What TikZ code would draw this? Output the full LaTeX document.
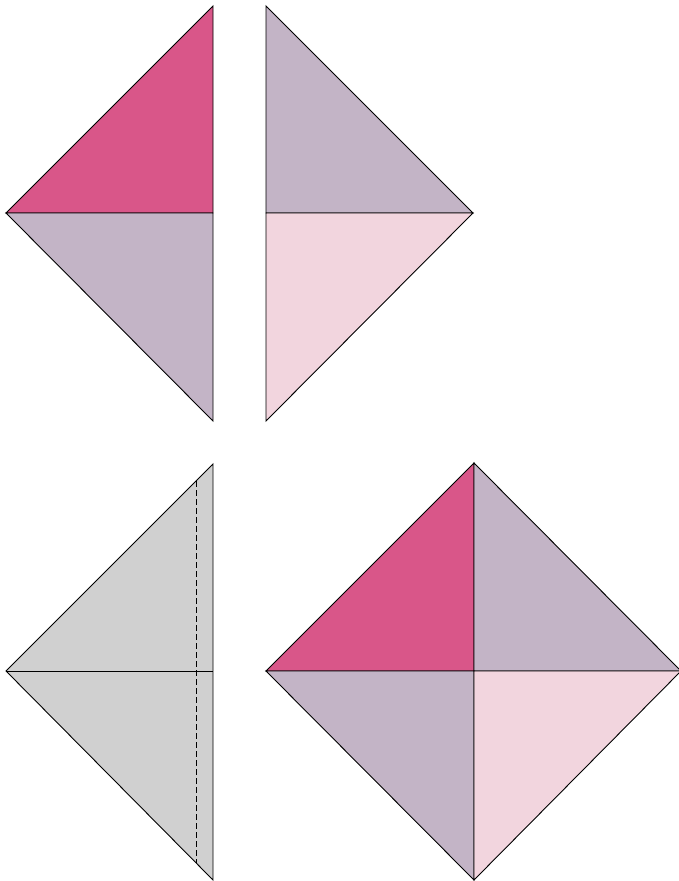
\documentclass[tikz,border=0pt]{standalone}
\usepackage{tikz}
\definecolor{hotpink}{HTML}{D95689}
\definecolor{mauve}{HTML}{C3B4C6}
\definecolor{palepink}{HTML}{F2D5DE}
\definecolor{foldgray}{HTML}{D0D0D0}
\begin{document}
\begin{tikzpicture}[x=1pt,y=-1pt,line width=0.9pt,line join=miter]
  \useasboundingbox (0,0) rectangle (679,881);
  % top left pair
  \draw[fill=hotpink] (6,213) -- (213,6) -- (213,213) -- cycle;
  \draw[fill=mauve] (6,213) -- (213,213) -- (213,421) -- cycle;
  % top right pair
  \draw[fill=mauve] (266,6) -- (473,213) -- (266,213) -- cycle;
  \draw[fill=palepink] (266,213) -- (473,213) -- (266,421) -- cycle;
  % folded half
  \draw[fill=foldgray] (6,671) -- (213,464) -- (213,880) -- cycle;
  \draw (6,671) -- (213,671);
  \draw[dash pattern=on 6pt off 3pt] (196,481) -- (196,863);
  % finished square
  \draw[fill=hotpink] (266,671) -- (474,463) -- (474,671) -- cycle;
  \draw[fill=mauve] (474,463) -- (681,671) -- (474,671) -- cycle;
  \draw[fill=mauve] (266,671) -- (474,671) -- (474,880) -- cycle;
  \draw[fill=palepink] (474,671) -- (681,671) -- (474,880) -- cycle;
\end{tikzpicture}
\end{document}
